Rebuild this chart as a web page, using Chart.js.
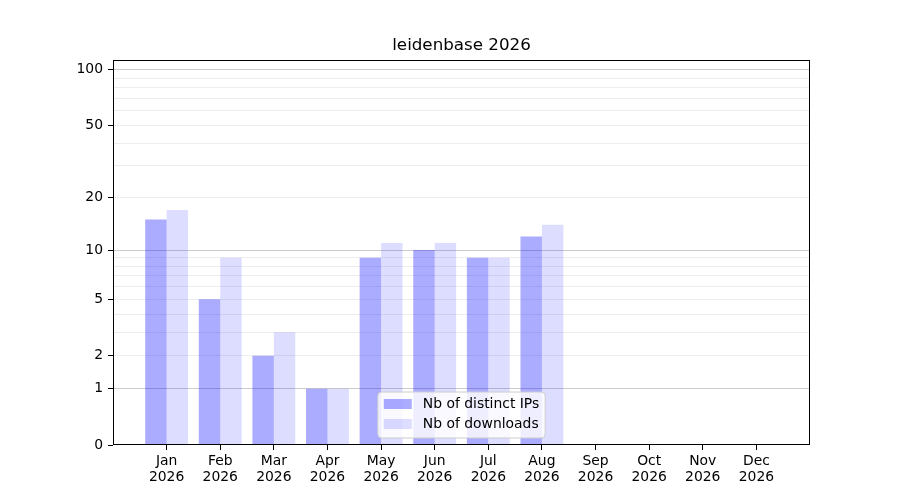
<!DOCTYPE html>
<html>
<head>
<meta charset="utf-8">
<script src="https://cdn.jsdelivr.net/npm/chart.js@4"></script>
<style>
  body { margin: 0; background: #fff; }
  #wrap { width: 900px; height: 500px; }
</style>
</head>
<body>
<div id="wrap"><canvas id="chart"></canvas></div>
<script>
// data
var chartTitle = "leidenbase 2026";
var monthLabels = ["Jan", "Feb", "Mar", "Apr", "May", "Jun", "Jul", "Aug", "Sep", "Oct", "Nov", "Dec"];
var yearLabel = "2026";
var distinctIps = [15, 5, 2, 1, 9, 10, 9, 12, 0, 0, 0, 0];
var downloads = [17, 9, 3, 1, 11, 11, 9, 14, 0, 0, 0, 0];
var yTickLabels = [0, 1, 2, 5, 10, 20, 50, 100];
var yMajorGrid = [1, 10, 100];
var yMinorGrid = [0, 2, 3, 4, 5, 6, 7, 8, 9, 20, 30, 40, 50, 60, 70, 80, 90];
var yMax = 113;

// y scale: log10(v + 1), so zero sits at the bottom
function fwd(v) { return Math.log10(v + 1); }
function inv(t) { return Math.pow(10, t) - 1; }

class Log1pScale extends Chart.Scale {
    determineDataLimits() {
        this.min = 0;
        this.max = this.options.max;
    }
    buildTicks() {
        var vals = yMajorGrid.concat(yMinorGrid).sort(function (a, b) { return a - b; });
        return vals.map(function (v) { return { value: v }; });
    }
    getLabelForValue(v) { return String(v); }
    configure() {
        super.configure();
        this._start = fwd(this.min);
        this._range = fwd(this.max) - this._start;
    }
    getPixelForValue(v) {
        return this.getPixelForDecimal((fwd(v) - this._start) / this._range);
    }
    getValueForPixel(p) {
        return inv(this.getDecimalForPixel(p) * this._range + this._start);
    }
}
Log1pScale.id = "log1p";
Log1pScale.defaults = {};
Chart.register(Log1pScale);

Chart.defaults.font.family = "DejaVu Sans";
Chart.defaults.font.size = 13.9;
Chart.defaults.color = "#000";

// frame, title over the plot area, legend inside at lower centre
var boxAndLegend = {
    id: "boxAndLegend",
    afterDraw: function (chart) {
        var ctx = chart.ctx;
        var a = chart.chartArea;
        var l = Math.round(a.left) + 0.5, r = Math.round(a.right) - 0.5;
        var t = Math.round(a.top) + 0.5, b = Math.round(a.bottom) - 0.5;
        ctx.save();
        ctx.strokeStyle = "#000";
        ctx.lineWidth = 1;
        ctx.strokeRect(l, t, r - l, b - t);

        ctx.fillStyle = "#000";
        ctx.font = "16.7px 'DejaVu Sans'";
        ctx.textAlign = "center";
        ctx.textBaseline = "middle";
        ctx.fillText(chartTitle, (a.left + a.right) / 2, a.top - 14);

        ctx.textAlign = "left";
        ctx.font = "13.9px 'DejaVu Sans'";
        var sets = chart.data.datasets;
        var textW = 0;
        sets.forEach(function (ds) { textW = Math.max(textW, ctx.measureText(ds.label).width); });
        var w = 6 + 28 + 11 + textW + 6;
        var h = 46;
        var x = (a.left + a.right) / 2 - w / 2;
        var y = a.bottom - 7 - h;
        ctx.beginPath();
        ctx.roundRect(x, y, w, h, 4);
        ctx.fillStyle = "rgba(255,255,255,0.8)";
        ctx.fill();
        ctx.strokeStyle = "#cccccc";
        ctx.stroke();
        sets.forEach(function (ds, i) {
            var cy = y + 12 + i * 20;
            ctx.fillStyle = ds.backgroundColor;
            ctx.fillRect(x + 6, cy - 5, 28, 10);
            ctx.fillStyle = "#000";
            ctx.fillText(ds.label, x + 45, cy);
        });
        ctx.restore();
    }
};

var ctx = document.getElementById("chart").getContext("2d");
var chart = new Chart(ctx, {
    type: "bar",
    data: {
        datasets: [
            {
                label: "Nb of distinct IPs",
                data: distinctIps.map(function (v, i) { return { x: i, y: v }; }),
                backgroundColor: "rgba(0, 0, 255, 0.33)",
            },
            {
                label: "Nb of downloads",
                data: downloads.map(function (v, i) { return { x: i, y: v }; }),
                backgroundColor: "rgba(0, 0, 255, 0.135)",
            },
        ],
    },
    options: {
        responsive: true,
        maintainAspectRatio: false,
        devicePixelRatio: 1,
        animation: false,
        categoryPercentage: 0.8,
        barPercentage: 1.0,
        elements: { bar: { borderWidth: 0, inflateAmount: 0 } },
        layout: { padding: { left: 0, right: 90, top: 60, bottom: 0 } },
        plugins: {
            legend: { display: false },
            tooltip: { enabled: false },
            title: { display: false },
        },
        scales: {
            x: {
                type: "linear",
                min: -1,
                max: 12,
                offset: false,
                afterBuildTicks: function (scale) {
                    scale.ticks = monthLabels.map(function (m, i) { return { value: i }; });
                },
                afterFit: function (scale) { scale.height = 55; },
                ticks: {
                    autoSkip: false,
                    maxRotation: 0,
                    padding: 3,
                    font: { lineHeight: 1.15 },
                    callback: function (v) { return [monthLabels[v], yearLabel]; },
                },
                grid: { offset: false, drawOnChartArea: false, tickLength: 5, tickColor: "#000" },
                border: { display: false },
            },
            y: {
                type: "log1p",
                max: yMax,
                afterFit: function (scale) { scale.width = 113; },
                ticks: {
                    autoSkip: false,
                    padding: 5,
                    callback: function (v) { return yTickLabels.indexOf(v) >= 0 ? String(v) : ""; },
                },
                grid: {
                    tickLength: 5,
                    color: function (c) {
                        var v = c.tick ? c.tick.value : null;
                        if (v === 0) return "rgba(0,0,0,0)";
                        return yMajorGrid.indexOf(v) >= 0 ? "rgba(0,0,0,0.2)" : "rgba(0,0,0,0.07)";
                    },
                    tickColor: function (c) {
                        var v = c.tick ? c.tick.value : null;
                        return yTickLabels.indexOf(v) >= 0 ? "#000" : "rgba(0,0,0,0)";
                    },
                },
                border: { display: false },
            },
        },
    },
    plugins: [boxAndLegend],
});
</script>
</body>
</html>
